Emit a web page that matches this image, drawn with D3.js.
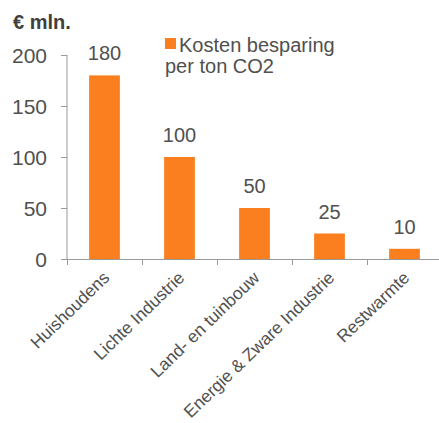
<!DOCTYPE html>
<html><head><meta charset="utf-8">
<script src="https://cdn.jsdelivr.net/npm/d3@7"></script>
<style>
html,body{margin:0;padding:0;background:#fff;}
svg{display:block;font-family:"Liberation Sans",Arial,sans-serif;}
</style></head>
<body>
<svg id="chart" width="439" height="423"></svg>
<script>
const categories = ["Huishoudens","Lichte Industrie","Land- en tuinbouw","Energie & Zware Industrie","Restwarmte"];
const values = [180,100,50,25,10];
const yTicks = [0,50,100,150,200];
const seriesName = ["Kosten besparing","per ton CO2"];
const unitLabel = "€ mln.";

const svg = d3.select("#chart");
const textColor = "#505050", axisColor = "#9a9a9a", barColor = "#FB7F1E";

const x = d3.scaleBand().domain(categories).range([67, 442]).paddingInner(0.59).paddingOuter(0.295);
const y = d3.scaleLinear().domain([0,200]).range([259, 55]);

// y axis
const yAxis = d3.axisLeft(y).tickValues(yTicks).tickSize(6).tickPadding(14);
const gy = svg.append("g").attr("transform","translate(67,0)").call(yAxis);
gy.select(".domain").attr("stroke",axisColor).attr("d","M0,55V259");
gy.selectAll(".tick line").attr("stroke",axisColor);
gy.selectAll(".tick text").attr("fill",textColor).style("font-size","21px").attr("dy","0.35em");

// x axis line & boundary ticks
const step = x.step();
const bounds = d3.range(categories.length+1).map(i => 67 + i*step);
svg.append("line").attr("x1",67).attr("x2",439).attr("y1",259.5).attr("y2",259.5).attr("stroke",axisColor);
svg.selectAll(".xb").data(bounds).enter().append("line")
  .attr("x1",d=>d+0.5).attr("x2",d=>d+0.5).attr("y1",259).attr("y2",265).attr("stroke",axisColor);

// bars
svg.selectAll(".bar").data(values).enter().append("rect")
  .attr("x",(d,i)=>x(categories[i])).attr("width",x.bandwidth())
  .attr("y",d=>y(d)).attr("height",d=>y(0)-y(d)).attr("fill",barColor);

// value labels
svg.selectAll(".val").data(values).enter().append("text")
  .attr("x",(d,i)=>x(categories[i])+x.bandwidth()/2).attr("y",d=>y(d)-15)
  .attr("text-anchor","middle").attr("fill",textColor).style("font-size","20px").text(d=>d);

// x labels
svg.selectAll(".xl").data(categories).enter().append("text")
  .attr("transform",d=>`translate(${x(d)+x.bandwidth()/2+6},${279}) rotate(-44)`)
  .attr("text-anchor","end").attr("fill",textColor).style("font-size","17.4px").text(d=>d);

// unit label
svg.append("text").attr("x",13).attr("y",29).attr("fill","#404040")
  .style("font-size","20px").style("font-weight","bold").text(unitLabel);

// legend
svg.append("rect").attr("x",165).attr("y",38).attr("width",11).attr("height",11).attr("fill",barColor);
svg.selectAll(".lg").data(seriesName).enter().append("text")
  .attr("x",(d,i)=>i===0?179:165).attr("y",(d,i)=>52+i*21)
  .attr("fill",textColor).style("font-size","20px").text(d=>d);
</script>
</body></html>
